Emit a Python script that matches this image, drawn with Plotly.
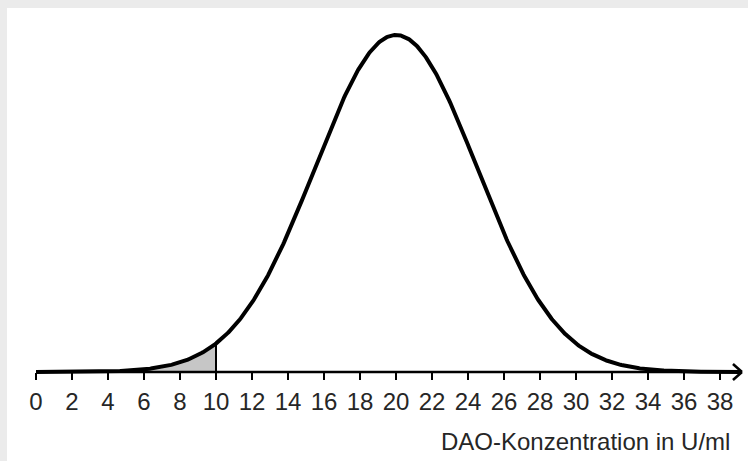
import numpy as np
import plotly.graph_objects as go

# Normal distribution
mu = 20.0
sigma = 4.5
shade_limit = 10.0
tick_values = list(range(0, 39, 2))
tick_labels = [str(v) for v in tick_values]
axis_title = "DAO-Konzentration in U/ml"

x_curve = np.linspace(0, 39.2, 800)
y_curve = np.exp(-0.5 * ((x_curve - mu) / sigma) ** 2) / (sigma * np.sqrt(2 * np.pi))
x_fill = np.linspace(0, shade_limit, 200)
y_fill = np.exp(-0.5 * ((x_fill - mu) / sigma) ** 2) / (sigma * np.sqrt(2 * np.pi))
y_at_limit = float(y_fill[-1])

PXX = 18.0
PXY = 3801.0
y_lo, y_hi = -89 / PXY, 364 / PXY

fig = go.Figure()
fig.add_trace(go.Scatter(x=x_fill, y=y_fill, mode="lines", line=dict(width=0),
                         fill="tozeroy", fillcolor="#c6c6c6", hoverinfo="skip"))
fig.add_trace(go.Scatter(x=x_curve, y=y_curve, mode="lines",
                         line=dict(color="black", width=4)))

tip = 39.22
shapes = [
    dict(type="line", x0=0, x1=tip, y0=0, y1=0, line=dict(color="black", width=2.5)),
    dict(type="line", x0=tip - 9 / PXX, x1=tip, y0=8 / PXY, y1=0, line=dict(color="black", width=2.5)),
    dict(type="line", x0=tip - 9 / PXX, x1=tip, y0=-8 / PXY, y1=0, line=dict(color="black", width=2.5)),
    dict(type="line", x0=shade_limit, x1=shade_limit, y0=0, y1=y_at_limit, line=dict(color="black", width=2)),
]

font = dict(family="Liberation Sans, Arial, sans-serif", size=24, color="#262626")

fig.update_layout(
    width=748, height=461,
    margin=dict(l=7, r=0, t=8, b=0, pad=0),
    paper_bgcolor="#ebebeb", plot_bgcolor="white",
    showlegend=False,
    shapes=shapes,
    xaxis=dict(range=[-29 / PXX, 712 / PXX], tickvals=tick_values, ticktext=tick_labels,
               ticks="outside", ticklen=7, tickwidth=2, tickcolor="black",
               showline=False, showgrid=False, zeroline=False,
               anchor="free", position=89 / 453, tickfont=font, ticklabelstandoff=1),
    yaxis=dict(range=[y_lo, y_hi], visible=False, showgrid=False, zeroline=False),
    annotations=[dict(text=axis_title, xref="paper", yref="paper",
                      x=725 / 741, y=(461 - 441) / 453, xanchor="right", yanchor="middle",
                      showarrow=False, font=font)],
)

fig.write_html("out.html", config={"displayModeBar": False},
               post_script="document.body.style.margin='0';document.body.style.overflow='hidden';document.body.style.background='#ebebeb';")
